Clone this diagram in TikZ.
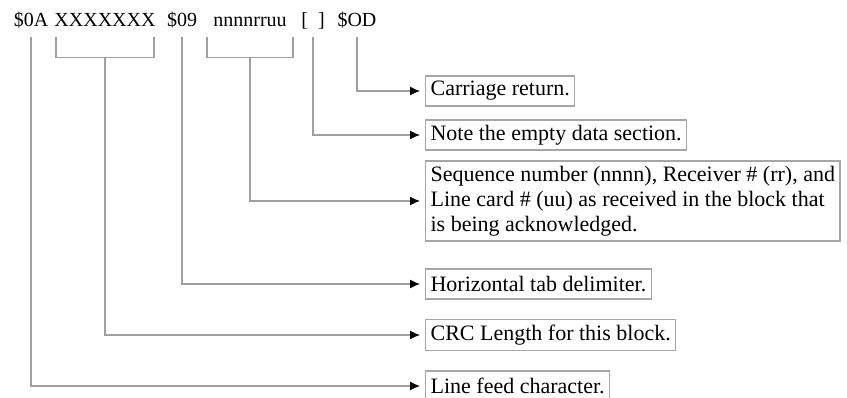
\documentclass[tikz,border=0pt]{standalone}
\usepackage{fontspec}
\setmainfont{Liberation Serif}
\usetikzlibrary{arrows.meta}

\begin{document}
\begin{tikzpicture}[
    x=1pt, y=-1pt,
    font=\fontsize{22}{25}\selectfont,
    tok/.style={anchor=base, font=\fontsize{20}{24}\selectfont,
                text height=15pt, text depth=5pt, inner sep=5pt},
    note/.style={draw=gray!70, line width=1.2pt, anchor=west, align=left,
                 inner sep=5pt, minimum height=30pt},
    wire/.style={draw=gray!75, line width=1.2pt},
    ptr/.style={wire, -{Latex[length=10pt, width=9pt, color=black]}, shorten >=5pt},
  ]
    \useasboundingbox (0,0) rectangle (847,398);
    % the frame, one token at a time
    \node[tok] (t0a) at (31,27)  {\$0A};
    \node[tok] (tx)  at (105,27) {XXXXXXX};
    \node[tok] (t09) at (182,27) {\$09};
    \node[tok] (tn)  at (250,27) {nnnnrruu};
    \node[tok] (tbr) at (313,27) {[\enspace]};
    \node[tok] (tod) at (357,27) {\$OD};
    % explanations
    \node[note] (cr)   at (425,91)  {Carriage return.};
    \node[note] (nt)   at (425,135) {Note the empty data section.};
    \node[note] (seq)  at (425,201) {Sequence number (nnnn), Receiver \# (rr), and\\
                                     Line card \# (uu) as received in the block that\\
                                     is being acknowledged.};
    \node[note] (tab)  at (425,284) {Horizontal tab delimiter.};
    \node[note] (crc)  at (425,335) {CRC Length for this block.};
    \node[note] (lf)   at (425,386) {Line feed character.};
    % brackets under the two fields
    \draw[wire] ([xshift=-49pt]tx.south) -- ++(0,20) -| ([xshift=49pt]tx.south);
    \draw[wire] ([xshift=-43pt]tn.south) -- ++(0,20) -| ([xshift=43pt]tn.south);
    % pointers
    \foreach \a/\b in {t0a/lf, t09/tab, tbr/nt, tod/cr}
      \draw[ptr] (\a.south) |- (\b.west);
    \draw[ptr] ([yshift=-20pt]tx.south) |- (crc.west);
    \draw[ptr] ([yshift=-20pt]tn.south) |- (seq.west);
  \end{tikzpicture}
\end{document}
